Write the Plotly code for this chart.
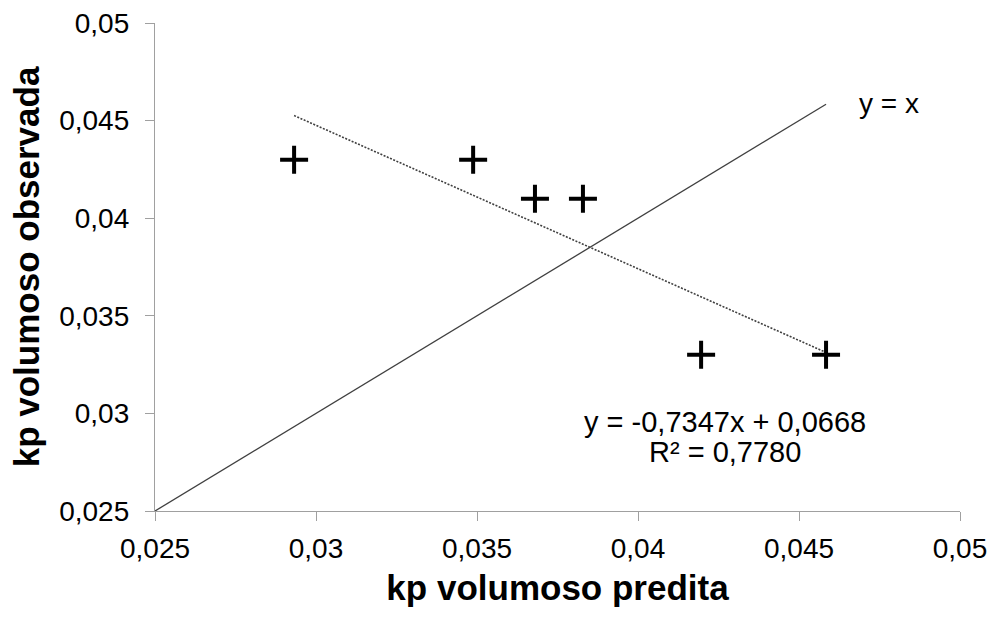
import plotly.graph_objects as go

# Predicted vs. observed kp for forage (volumoso)
kp_predita = [0.02932, 0.03488, 0.0368, 0.03829, 0.04196, 0.04584]
kp_observada = [0.043, 0.043, 0.041, 0.041, 0.033, 0.033]

# Linear fit reported on the chart
slope = -0.7347
intercept = 0.0668
r2 = 0.7780

tick_vals = [0.025, 0.03, 0.035, 0.04, 0.045, 0.05]
tick_text = ["0,025", "0,03", "0,035", "0,04", "0,045", "0,05"]

FONT = "Liberation Sans, Arial, sans-serif"

fig = go.Figure()

# y = x reference line, drawn up to the largest predicted value
identity_x = [0.025, max(kp_predita)]
fig.add_trace(go.Scatter(
    x=identity_x, y=identity_x, mode="lines",
    line=dict(color="#404040", width=1.3),
    showlegend=False, hoverinfo="skip",
))

# Trend line over the range of the data
x0, x1 = min(kp_predita), max(kp_predita)
fig.add_trace(go.Scatter(
    x=[x0, x1], y=[slope * x0 + intercept, slope * x1 + intercept],
    mode="lines", line=dict(color="#404040", width=1.6, dash="2px,1.5px"),
    showlegend=False, hoverinfo="skip",
))

# Observations
fig.add_trace(go.Scatter(
    x=kp_predita, y=kp_observada, mode="markers",
    marker=dict(symbol="cross-thin", size=20, line=dict(color="black", width=4)),
    showlegend=False,
))

fig.add_annotation(
    x=0.0478, y=0.0459, text="y = x", showarrow=False,
    xanchor="center", yanchor="middle", font=dict(family=FONT, size=28, color="black"),
)

eq_text = f"y = {slope:.4f}x + {intercept:.4f}".replace(".", ",")
r2_text = f"R² = {r2:.4f}".replace(".", ",")
fig.add_annotation(
    x=0.0427, y=0.02956, text=eq_text, showarrow=False,
    xanchor="center", yanchor="middle", font=dict(family=FONT, size=29, color="black"),
)
fig.add_annotation(
    x=0.0427, y=0.02802, text=r2_text, showarrow=False,
    xanchor="center", yanchor="middle", font=dict(family=FONT, size=29, color="black"),
)

axis_common = dict(
    range=[0.025, 0.05], tickvals=tick_vals, ticktext=tick_text,
    showgrid=False, zeroline=False, showline=True, linecolor="#a0a0a0", linewidth=1.3,
    ticks="outside", ticklen=9, tickcolor="#a0a0a0", tickwidth=1.3,
    tickfont=dict(family=FONT, size=28, color="black"), automargin=False,
)

fig.update_layout(
    width=995, height=619,
    margin=dict(l=155, r=35, t=23, b=108),
    paper_bgcolor="white", plot_bgcolor="white",
    xaxis=dict(**axis_common, ticklabelstandoff=3,
               title=dict(text="<b>kp volumoso predita</b>", standoff=12,
                          font=dict(family=FONT, size=35, color="black"))),
    yaxis=dict(**axis_common, ticklabelstandoff=10,
               title=dict(text="<b>kp volumoso observada</b>", standoff=8,
                          font=dict(family=FONT, size=35, color="black"))),
)

fig.write_html("out.html")
